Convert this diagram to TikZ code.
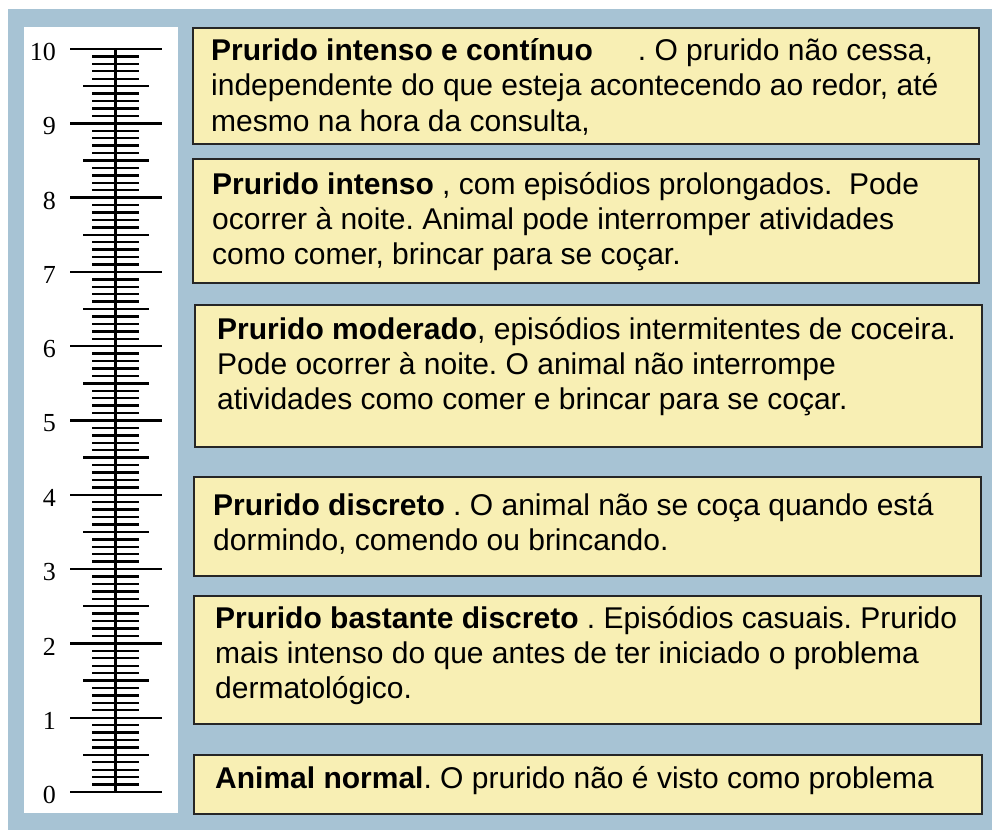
\documentclass[tikz,border=0pt]{standalone}
\usepackage{fontspec}
\setmainfont{Liberation Sans}
\newfontfamily\numfont{Liberation Serif}
\usetikzlibrary{positioning,calc}
\definecolor{bgblue}{RGB}{167,195,212}
\definecolor{boxyellow}{RGB}{248,239,180}
\tikzset{
    box/.style = {draw=black!85, fill=boxyellow, line width=1.8pt,
        rectangle, anchor=north west, inner sep=0pt},
    txt/.style = {anchor=west, align=left, inner sep=0pt,
        font=\fontsize{30}{35}\selectfont},
    num/.style = {anchor=east, inner sep=0pt,
        font=\numfont\fontsize{26}{26}\selectfont},
    tick/.style = {draw, line width=2.4pt}
}
\frenchspacing

\begin{document}
\begin{tikzpicture}[x=1pt, y=-1pt]
        \useasboundingbox (0,0) rectangle (992,830);
        \fill [bgblue] (8,9) rectangle (992,830);
        \fill [white] (24,27) rectangle (178,813);
        % scale
        \foreach \k in {0,1,...,100}{
            \draw [draw,tick] (92,{792-7.43*\k}) -- (139,{792-7.43*\k});
        }
        \foreach \k in {0,1,...,9}{
            \draw [draw,tick] (83,{792-74.3*(\k+0.5)}) -- (149,{792-74.3*(\k+0.5)});
        }
        \foreach \k in {0,1,...,10}{
            \draw [draw,tick] (70,{792-74.3*\k}) -- (162,{792-74.3*\k});
            \node [num, name=n\k] at (56,{795-74.3*\k}) {\k};
        }
        \draw [draw,line width=3pt] (115,49) -- (115,792);
        % boxes
        \node [box, minimum width=786pt, minimum height=116pt, name=b1] at (192,27) {};
        \node [box, minimum width=786pt, minimum height=124pt, name=b2] at (192,158) {};
        \node [box, minimum width=787pt, minimum height=142pt, name=b3] at (194,304) {};
        \node [box, minimum width=787pt, minimum height=99pt, name=b4] at (193,476) {};
        \node [box, minimum width=787pt, minimum height=128pt, name=b5] at (193,595) {};
        \node [box, minimum width=788pt, minimum height=59pt, name=b6] at (193,754) {};
        \node [txt, name=t1] at ([xshift=19pt,yshift=-1pt]b1.west)
            {\textbf{Prurido intenso e contínuo}\hspace{1.5em}. O prurido não cessa,\\[0.5pt]
             independente do que esteja acontecendo ao redor, até\\[0.5pt]
             mesmo na hora da consulta,};
        \node [txt, name=t2] at ([xshift=20pt,yshift=-1pt]b2.west)
            {\textbf{Prurido intenso} , com episódios prolongados.\ \ Pode\\
             ocorrer à noite. Animal pode interromper atividades\\
             como comer, brincar para se coçar.};
        \node [txt, name=t3] at ([xshift=23pt,yshift=9pt]b3.west)
            {\textbf{Prurido moderado}, episódios intermitentes de coceira.\\
             Pode ocorrer à noite. O animal não interrompe\\
             atividades como comer e brincar para se coçar.};
        \node [txt, name=t4] at ([xshift=20pt,yshift=3pt]b4.west)
            {\textbf{Prurido discreto} . O animal não se coça quando está\\
             dormindo, comendo ou brincando.};
        \node [txt, name=t5] at ([xshift=22pt,yshift=4pt]b5.west)
            {\textbf{Prurido bastante discreto} . Episódios casuais. Prurido\\
             mais intenso do que antes de ter iniciado o problema\\
             dermatológico.};
        \node [txt, name=t6] at ([xshift=22pt,yshift=4pt]b6.west)
            {\textbf{Animal normal}. O prurido não é visto como problema};
    \end{tikzpicture}
\end{document}
